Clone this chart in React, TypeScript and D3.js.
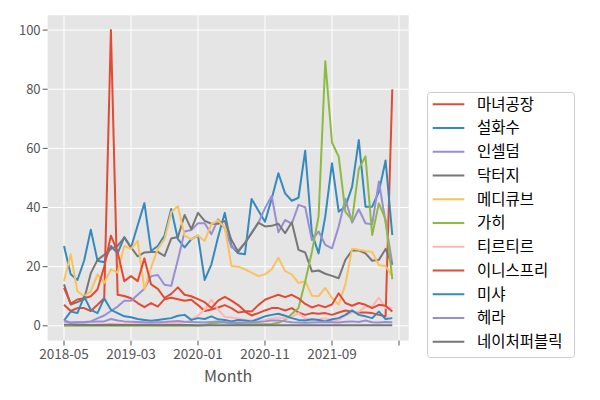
import React from 'react';
import * as d3 from 'd3';

const months = [
  '2018-05', '2018-06', '2018-07', '2018-08', '2018-09', '2018-10', '2018-11', '2018-12',
  '2019-01', '2019-02', '2019-03', '2019-04', '2019-05', '2019-06', '2019-07', '2019-08',
  '2019-09', '2019-10', '2019-11', '2019-12', '2020-01', '2020-02', '2020-03', '2020-04',
  '2020-05', '2020-06', '2020-07', '2020-08', '2020-09', '2020-10', '2020-11', '2020-12',
  '2021-01', '2021-02', '2021-03', '2021-04', '2021-05', '2021-06', '2021-07', '2021-08',
  '2021-09', '2021-10', '2021-11', '2021-12', '2022-01', '2022-02', '2022-03', '2022-04',
  '2022-05', '2022-06',
];

const witchFactory = [7.1, 5, 6, 6, 5, 7.1, 9.3, 100, 10.5, 10.1, 9.3, 7.7, 6.3, 7.7, 6.5, 9, 9.5, 9, 8.5, 8.8, 7, 5, 5.5, 6.2, 7, 6, 4.5, 4.8, 3.5, 4.3, 5.2, 6, 6, 5.2, 6, 4.5, 3.7, 4.3, 4.1, 4.3, 3.7, 4.5, 5.2, 4.8, 4.5, 4.5, 4.3, 3.7, 3.2, 80];
const sulwhasoo = [27, 17.4, 15.5, 22, 32.5, 22, 21.5, 27, 24.5, 30, 26.5, 34, 41.5, 25.3, 27, 30.5, 39.5, 29.3, 26.5, 29.3, 30.5, 15.5, 20.8, 30, 38.2, 27, 24.5, 24.2, 42.9, 39, 35.2, 43, 51.6, 44.8, 42.3, 43.3, 59.2, 31.3, 24.5, 37, 55, 38.6, 40.3, 47, 62.8, 40.3, 40.3, 45.4, 55.9, 30.7];
const incellderm = [1.5, 1, 1.2, 1.3, 1.5, 2.5, 3.5, 5, 6.5, 8.5, 8.5, 10.5, 12.5, 16.8, 17.2, 13.9, 13.5, 22.3, 31.9, 32.4, 34.7, 34.7, 31, 36, 33, 26.5, 25.5, 28, 31.5, 34.7, 39.8, 43.9, 31.6, 35.8, 34.5, 40.9, 40.1, 29, 31.9, 27.4, 26.2, 33.6, 43, 34.9, 39.4, 34.7, 34.3, 48.8, 35, 21];
const drG = [14, 7.2, 8, 9, 17.8, 22.3, 24, 26, 27, 29.8, 26.5, 23.5, 24.8, 25, 25, 23.6, 29.5, 30, 37.5, 32.7, 38.2, 35.5, 34.5, 34.5, 35.5, 29, 25, 28, 31.3, 34.9, 33.6, 33.8, 34.5, 31.3, 35, 25.7, 24.8, 18.4, 18.7, 17.6, 16.9, 16.1, 22.3, 25.5, 25.5, 24.5, 22, 22.3, 26, 20.6];
const medicube = [15.1, 24.2, 11.7, 10, 11.7, 17.4, 14.5, 19.1, 18, 27, 26, 28.7, 12.3, 19.7, 26, 29.3, 38.4, 40.5, 30.5, 29.3, 30.5, 28.7, 34.4, 35.6, 33.3, 20.2, 20, 19.1, 18, 16.8, 17.4, 19.1, 23, 18.5, 17.4, 14.5, 15.1, 10.2, 10, 12.8, 9.4, 7.2, 14, 26.1, 25.7, 25.3, 25, 20.5, 20.2, 16.8];
const gahi = [0, 0, 0, 0, 0, 0, 0, 0, 0, 0, 0, 0, 0, 0, 0, 0, 0, 0, 0, 0, 0, 0.2, 0.8, 1, 1.2, 0.8, 0.6, 0.5, 0.5, 0.5, 0.5, 0.6, 1, 2, 4, 6, 15, 25, 37, 89.5, 62, 57.2, 38.5, 35.8, 53, 57.3, 30.7, 41.4, 36, 15.8];
const tirtir = [0.3, 0.3, 0.3, 0.4, 0.4, 0.5, 0.5, 0.6, 0.6, 0.5, 0.5, 0.6, 0.6, 0.5, 0.6, 0.8, 1, 0.8, 1.2, 2, 3.5, 5.5, 8.8, 5.5, 3, 2.8, 2.5, 2, 1.8, 1.5, 2, 2.5, 2.8, 2.5, 3, 4.3, 2.5, 2, 2.2, 2.5, 1.8, 2, 3.5, 4.5, 4.8, 6.5, 6.5, 9.5, 6, 6];
const innisfree = [12.8, 7.5, 8.9, 9.3, 10, 12.3, 20, 30.5, 25, 15.1, 16.8, 15.1, 22.8, 14, 12.5, 9.4, 10.8, 13, 10.5, 10, 9, 8, 6, 8.5, 9.8, 8.5, 7, 5, 4.8, 7, 8.8, 9.7, 10.5, 9.7, 10.5, 9.3, 7.4, 6.2, 7, 6.3, 7.2, 11, 7.7, 6.8, 7.7, 7.1, 6, 7.1, 6.8, 4.8];
const missha = [1.8, 4.8, 4.3, 9.9, 5.4, 4.3, 9.3, 5.4, 4.3, 3.2, 2.9, 2.3, 2, 1.7, 2, 2.3, 2.6, 3.4, 3.7, 2, 2.6, 2.3, 3.2, 2.2, 2, 1.5, 2, 1.8, 1.5, 2.3, 3.2, 3.7, 4.1, 3.4, 2.6, 2, 1.8, 2.2, 2, 1.5, 2.2, 2.6, 3.7, 5.2, 3.7, 3.2, 2.6, 4.8, 2.3, 2.6];
const hera = [1.8, 1.1, 1.2, 1.1, 1.4, 1.5, 1.5, 2.3, 1.8, 1.5, 1.4, 1.3, 1.2, 1.1, 1.2, 1.3, 1.5, 1.6, 1.4, 1.3, 1.2, 1.1, 1.3, 1.5, 1.2, 1, 1, 1.1, 1.2, 1.3, 1.5, 1.8, 1.8, 1.5, 1.2, 1.1, 1, 1.1, 1.2, 1.3, 1.2, 1.1, 1.4, 1.5, 1.3, 1.8, 1.2, 1.1, 1.3, 1.2];
const naturePublic = [0.4, 0.4, 0.3, 0.3, 0.3, 0.3, 0.3, 0.4, 0.3, 0.3, 0.3, 0.3, 0.3, 0.3, 0.3, 0.3, 0.3, 0.3, 0.3, 0.3, 0.2, 0.2, 0.2, 0.2, 0.2, 0.2, 0.2, 0.2, 0.2, 0.2, 0.2, 0.2, 0.2, 0.2, 0.2, 0.2, 0.2, 0.2, 0.2, 0.2, 0.2, 0.2, 0.2, 0.2, 0.2, 0.2, 0.2, 0.2, 0.2, 0.2];

const seriesNames = ['마녀공장', '설화수', '인셀덤', '닥터지', '메디큐브', '가히', '티르티르', '이니스프리', '미샤', '헤라', '네이처퍼블릭'];
const seriesValues = [witchFactory, sulwhasoo, incellderm, drG, medicube, gahi, tirtir, innisfree, missha, hera, naturePublic];
const palette = ['#E24A33', '#348ABD', '#988ED5', '#777777', '#FBC15E', '#8EBA42', '#FFB5B8'];

const xTicks = [0, 10, 20, 30, 40, 50];
const yTicks = [0, 20, 40, 60, 80, 100];

const FONT = '"Noto Sans CJK KR", "Noto Sans", sans-serif';

export default function App() {
  const left = 47.6, right = 408.7, top = 15.3, bottom = 340.6;
  const n = months.length;
  const pad = (n - 1) * 0.05;

  const x = d3.scaleLinear().domain([-pad, n - 1 + pad]).range([left, right]);
  const y = d3.scaleLinear().domain([-5, 105]).range([bottom, top]);

  const line = d3.line<number>()
    .x((_, i) => x(i))
    .y(d => y(d));

  const legendX = 427.5, legendY = 92.5, legendW = 147, legendH = 265;
  const rowH = 23.74;

  return (
    <div style={{ position: 'absolute', left: 0, top: 0 }}>
      <svg width={600} height={400} style={{ display: 'block', fontFamily: FONT }}>
        <rect width={600} height={400} fill="#ffffff" />
        <rect x={left} y={top} width={right - left} height={bottom - top} fill="#E5E5E5" />

        {/* grid */}
        {xTicks.map(t => (
          <line key={'gx' + t} x1={x(t)} x2={x(t)} y1={top} y2={bottom} stroke="#ffffff" strokeWidth={1} />
        ))}
        {yTicks.map(t => (
          <line key={'gy' + t} x1={left} x2={right} y1={y(t)} y2={y(t)} stroke="#ffffff" strokeWidth={1} />
        ))}

        {/* series */}
        <defs>
          <clipPath id="plotClip">
            <rect x={left} y={top} width={right - left} height={bottom - top} />
          </clipPath>
        </defs>
        <g clipPath="url(#plotClip)">
          {seriesValues.map((vals, k) => (
            <path key={seriesNames[k]} d={line(vals) ?? ''} fill="none"
              stroke={palette[k % palette.length]} strokeWidth={2} strokeLinejoin="round" />
          ))}
        </g>

        {/* y axis */}
        {yTicks.map(t => (
          <g key={'yt' + t}>
            <line x1={left - 4.9} x2={left} y1={y(t)} y2={y(t)} stroke="#555555" strokeWidth={1} />
            <text x={left - 7} y={y(t)} dy="0.35em" textAnchor="end" fontSize={13} fill="#555555">{t}</text>
          </g>
        ))}

        {/* x axis */}
        {xTicks.map(t => (
          <g key={'xt' + t}>
            <line x1={x(t)} x2={x(t)} y1={bottom} y2={bottom + 4.9} stroke="#555555" strokeWidth={1} />
            <text x={x(t)} y={bottom + 14} dy="0.35em" textAnchor="middle" fontSize={13.5} fill="#555555">
              {months[t] ?? ''}
            </text>
          </g>
        ))}
        <text x={(left + right) / 2} y={376} dy="0.35em" textAnchor="middle" fontSize={16} fill="#555555">Month</text>

        {/* legend */}
        <rect x={legendX} y={legendY} width={legendW} height={legendH} rx={3} fill="#ffffff" stroke="#cccccc" strokeWidth={1} />
        {seriesNames.map((name, k) => {
          const ly = legendY + 11.8 + k * rowH;
          return (
            <g key={'lg' + name}>
              <line x1={432.7} x2={464.3} y1={ly} y2={ly} stroke={palette[k % palette.length]} strokeWidth={2} />
              <text x={477} y={ly} dy="0.35em" fontSize={15.5} fill="#000000">{name}</text>
            </g>
          );
        })}
      </svg>
    </div>
  );
}
